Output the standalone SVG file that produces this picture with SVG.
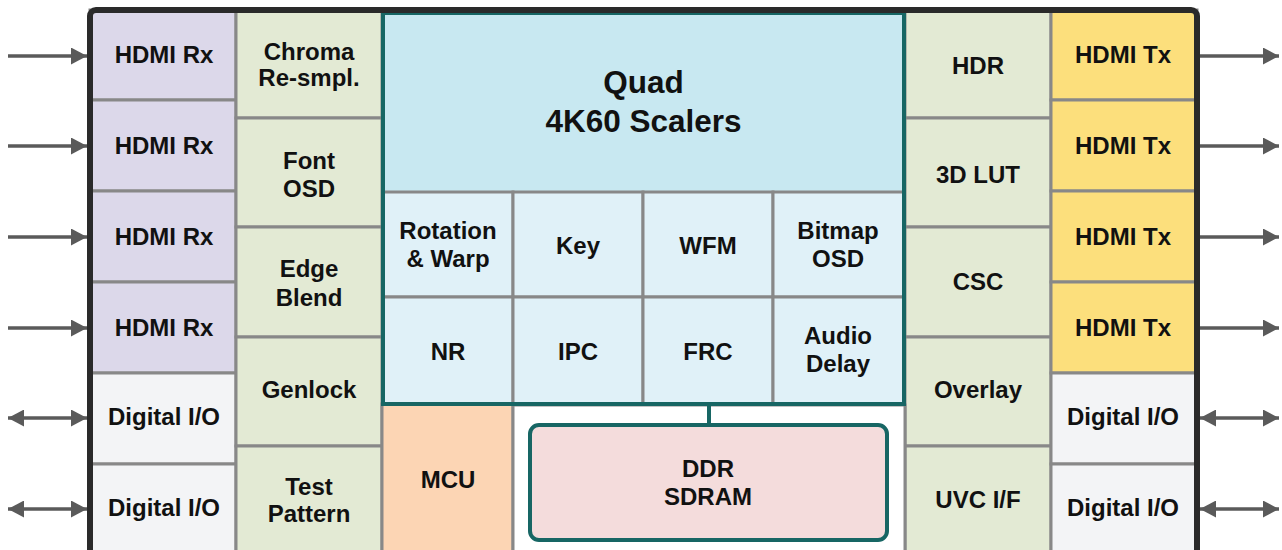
<svg xmlns="http://www.w3.org/2000/svg" width="1282" height="550" viewBox="0 0 1282 550">
<defs>
<style>
.t{font-family:"Liberation Sans",Arial,sans-serif;font-weight:bold;font-size:24px;fill:#111;text-anchor:middle}
.big{font-size:31.5px}
.c{stroke:#888;stroke-width:3}
.rx{fill:#dcd8ea}
.gr{fill:#e3ead4}
.tx{fill:#fcdf7c}
.io{fill:#f3f4f6}
.hd{fill:#c8e8f1}
.sb{fill:#e0f1f8}
.mcu{fill:#fcd5b4}
.ar{stroke:#5a5a5a;stroke-width:3.5;fill:none}
</style>
<marker id="ah" markerUnits="userSpaceOnUse" markerWidth="17" markerHeight="17" refX="16" refY="8.5" orient="auto-start-reverse">
<path d="M0,0 L16,8.5 L0,17 z" fill="#5a5a5a"/>
</marker>
</defs>
<rect x="0" y="0" width="1282" height="550" fill="#fff"/>

<!-- Left column -->
<g id="rx1"><rect class="c rx" x="90" y="10" width="146" height="90"/><text class="t" x="164" y="63">HDMI Rx</text></g>
<g id="rx2"><rect class="c rx" x="90" y="100" width="146" height="91"/><text class="t" x="164" y="154">HDMI Rx</text></g>
<g id="rx3"><rect class="c rx" x="90" y="191" width="146" height="91"/><text class="t" x="164" y="245">HDMI Rx</text></g>
<g id="rx4"><rect class="c rx" x="90" y="282" width="146" height="91"/><text class="t" x="164" y="336">HDMI Rx</text></g>
<g id="lio1"><rect class="c io" x="90" y="373" width="146" height="91"/><text class="t" x="164" y="425">Digital I/O</text></g>
<g id="lio2"><rect class="c io" x="90" y="464" width="146" height="100"/><text class="t" x="164" y="516">Digital I/O</text></g>

<!-- Left green column -->
<g id="chroma"><rect class="c gr" x="236" y="10" width="146" height="108"/><text class="t" x="309" y="60">Chroma</text><text class="t" x="309" y="86">Re-smpl.</text></g>
<g id="font"><rect class="c gr" x="236" y="118" width="146" height="109"/><text class="t" x="309" y="169">Font</text><text class="t" x="309" y="197">OSD</text></g>
<g id="edge"><rect class="c gr" x="236" y="227" width="146" height="110"/><text class="t" x="309" y="277">Edge</text><text class="t" x="309" y="306">Blend</text></g>
<g id="genlock"><rect class="c gr" x="236" y="337" width="146" height="109"/><text class="t" x="309" y="398">Genlock</text></g>
<g id="test"><rect class="c gr" x="236" y="446" width="146" height="118"/><text class="t" x="309" y="495">Test</text><text class="t" x="309" y="522">Pattern</text></g>

<!-- Right green column -->
<g id="hdr"><rect class="c gr" x="905" y="10" width="146" height="108"/><text class="t" x="978" y="74">HDR</text></g>
<g id="lut"><rect class="c gr" x="905" y="118" width="146" height="109"/><text class="t" x="978" y="183">3D LUT</text></g>
<g id="csc"><rect class="c gr" x="905" y="227" width="146" height="110"/><text class="t" x="978" y="290">CSC</text></g>
<g id="overlay"><rect class="c gr" x="905" y="337" width="146" height="109"/><text class="t" x="978" y="398">Overlay</text></g>
<g id="uvc"><rect class="c gr" x="905" y="446" width="146" height="118"/><text class="t" x="978" y="508">UVC I/F</text></g>

<!-- Right column -->
<g id="tx1"><rect class="c tx" x="1051" y="10" width="146" height="90"/><text class="t" x="1123" y="63">HDMI Tx</text></g>
<g id="tx2"><rect class="c tx" x="1051" y="100" width="146" height="91"/><text class="t" x="1123" y="154">HDMI Tx</text></g>
<g id="tx3"><rect class="c tx" x="1051" y="191" width="146" height="91"/><text class="t" x="1123" y="245">HDMI Tx</text></g>
<g id="tx4"><rect class="c tx" x="1051" y="282" width="146" height="91"/><text class="t" x="1123" y="336">HDMI Tx</text></g>
<g id="rio1"><rect class="c io" x="1051" y="373" width="146" height="91"/><text class="t" x="1123" y="425">Digital I/O</text></g>
<g id="rio2"><rect class="c io" x="1051" y="464" width="146" height="100"/><text class="t" x="1123" y="516">Digital I/O</text></g>

<!-- MCU -->
<g id="mcu"><rect class="c mcu" x="382" y="404" width="131" height="160"/><text class="t" x="448" y="488">MCU</text></g>
<rect x="513" y="405" width="392" height="160" fill="#fff" stroke="#888" stroke-width="3"/>

<!-- Scaler block -->
<g id="scalers"><rect class="hd" x="383" y="13" width="521" height="179"/><text class="t big" x="643.5" y="93">Quad</text><text class="t big" x="643.5" y="132">4K60 Scalers</text></g>
<g id="rotation"><rect class="c sb" x="383" y="192" width="130" height="105"/><text class="t" x="448" y="239">Rotation</text><text class="t" x="448" y="267">&amp; Warp</text></g>
<g id="key"><rect class="c sb" x="513" y="192" width="130" height="105"/><text class="t" x="578" y="254">Key</text></g>
<g id="wfm"><rect class="c sb" x="643" y="192" width="130" height="105"/><text class="t" x="708" y="254">WFM</text></g>
<g id="bitmap"><rect class="c sb" x="773" y="192" width="131" height="105"/><text class="t" x="838" y="239">Bitmap</text><text class="t" x="838" y="267">OSD</text></g>
<g id="nr"><rect class="c sb" x="383" y="297" width="130" height="107"/><text class="t" x="448" y="360">NR</text></g>
<g id="ipc"><rect class="c sb" x="513" y="297" width="130" height="107"/><text class="t" x="578" y="360">IPC</text></g>
<g id="frc"><rect class="c sb" x="643" y="297" width="130" height="107"/><text class="t" x="708" y="360">FRC</text></g>
<g id="audio"><rect class="c sb" x="773" y="297" width="131" height="107"/><text class="t" x="838" y="344">Audio</text><text class="t" x="838" y="372">Delay</text></g>
<rect x="383" y="13" width="521" height="391" fill="none" stroke="#176664" stroke-width="4"/>

<!-- DDR -->
<g id="ddr"><rect x="530" y="425" width="357" height="115" rx="9" fill="#f4dcdc" stroke="#176664" stroke-width="4"/><text class="t" x="708" y="477">DDR</text><text class="t" x="708" y="505">SDRAM</text></g>

<!-- Frame -->
<rect x="90" y="10" width="1107" height="570" rx="6" fill="none" stroke="#2a2a2a" stroke-width="6"/>

<!-- Connectors -->
<g id="connectors">
<line x1="709" y1="406" x2="709" y2="423" stroke="#176664" stroke-width="4"/>
<line class="ar" x1="8" y1="56" x2="87" y2="56" marker-end="url(#ah)"/>
<line class="ar" x1="8" y1="146" x2="87" y2="146" marker-end="url(#ah)"/>
<line class="ar" x1="8" y1="237" x2="87" y2="237" marker-end="url(#ah)"/>
<line class="ar" x1="8" y1="328" x2="87" y2="328" marker-end="url(#ah)"/>
<line class="ar" x1="8" y1="418" x2="87" y2="418" marker-start="url(#ah)" marker-end="url(#ah)"/>
<line class="ar" x1="8" y1="509" x2="87" y2="509" marker-start="url(#ah)" marker-end="url(#ah)"/>
<line class="ar" x1="1200" y1="56" x2="1279" y2="56" marker-end="url(#ah)"/>
<line class="ar" x1="1200" y1="146" x2="1279" y2="146" marker-end="url(#ah)"/>
<line class="ar" x1="1200" y1="237" x2="1279" y2="237" marker-end="url(#ah)"/>
<line class="ar" x1="1200" y1="328" x2="1279" y2="328" marker-end="url(#ah)"/>
<line class="ar" x1="1200" y1="418" x2="1279" y2="418" marker-start="url(#ah)" marker-end="url(#ah)"/>
<line class="ar" x1="1200" y1="509" x2="1279" y2="509" marker-start="url(#ah)" marker-end="url(#ah)"/>
</g>
</svg>
